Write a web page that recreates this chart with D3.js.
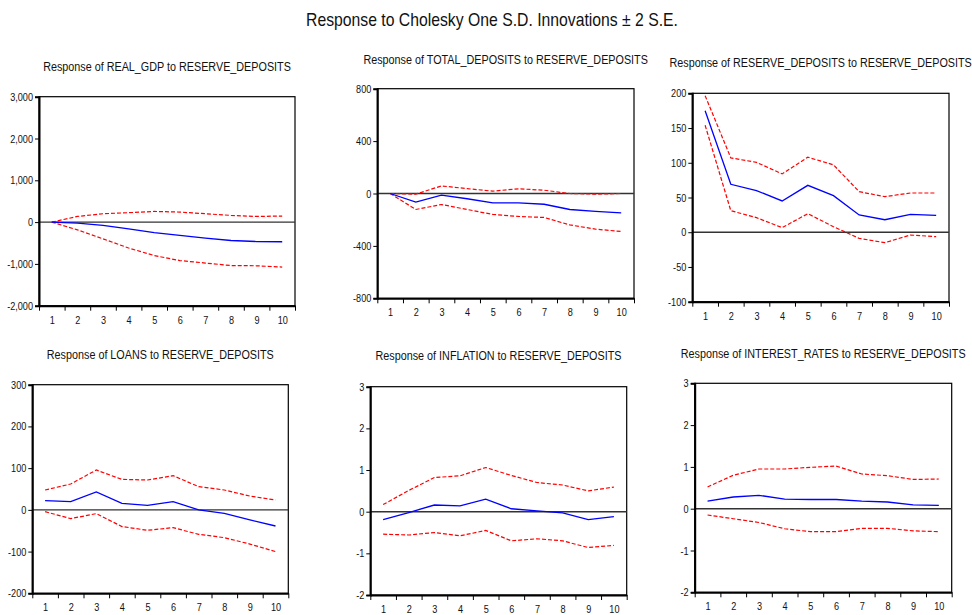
<!DOCTYPE html>
<html>
<head>
<meta charset="utf-8">
<script src="https://cdn.jsdelivr.net/npm/d3@7/dist/d3.min.js"></script>
<style>
  html, body { margin: 0; padding: 0; background: #fff; }
  svg { display: block; }
  text { font-family: "Liberation Sans", Arial, sans-serif; fill: #111; }
</style>
</head>
<body>
<svg id="chart" width="972" height="615"></svg>
<script>
// Impulse horizon
const periods = [1, 2, 3, 4, 5, 6, 7, 8, 9, 10];

// Response of REAL_GDP
const gdpResp  = [0, -25, -80, -160, -250, -320, -385, -440, -465, -470];
const gdpUpper = [0, 135, 200, 225, 255, 240, 200, 160, 135, 145];
const gdpLower = [0, -185, -400, -620, -800, -920, -980, -1040, -1045, -1075];
const gdpTicks = [-2000, -1000, 0, 1000, 2000, 3000];

// Response of TOTAL_DEPOSITS
const depResp  = [0, -66, -13, -40, -72, -72, -82, -122, -137, -148];
const depUpper = [0, -5, 58, 37, 18, 36, 25, 0, -5, 0];
const depLower = [0, -122, -84, -122, -160, -175, -183, -240, -272, -290];
const depTicks = [-800, -400, 0, 400, 800];

// Response of RESERVE_DEPOSITS
const resResp  = [175, 69, 60, 45, 67.5, 52.6, 24.8, 18, 25.8, 24.3];
const resUpper = [196.6, 107, 100.6, 84, 108, 97, 58.4, 51.2, 56.5, 56.5];
const resLower = [154, 31, 21, 6.6, 26.7, 8, -8.8, -15, -4, -6.4];
const resTicks = [-100, -50, 0, 50, 100, 150, 200];

// Response of LOANS
const loanResp  = [22, 19.6, 42.8, 15.7, 10.9, 19.6, 0, -8.3, -24, -38.7];
const loanUpper = [47.6, 62, 95.5, 73, 71.6, 82, 55.6, 47.6, 33, 23.6];
const loanLower = [-4.3, -21, -9, -40, -49, -42.7, -58.6, -66.6, -82, -100];
const loanTicks = [-200, -100, 0, 100, 200, 300];

// Response of INFLATION
const infResp  = [-0.19, -0.02, 0.16, 0.14, 0.30, 0.07, 0.02, -0.03, -0.19, -0.12];
const infUpper = [0.17, 0.51, 0.82, 0.86, 1.06, 0.87, 0.70, 0.64, 0.50, 0.59];
const infLower = [-0.54, -0.56, -0.50, -0.58, -0.45, -0.70, -0.65, -0.70, -0.86, -0.81];
const infTicks = [-2, -1, 0, 1, 2, 3];

// Response of INTEREST_RATES
const irResp  = [0.18, 0.28, 0.32, 0.23, 0.22, 0.22, 0.18, 0.16, 0.09, 0.08];
const irUpper = [0.52, 0.80, 0.95, 0.95, 0.99, 1.02, 0.83, 0.79, 0.70, 0.71];
const irLower = [-0.15, -0.24, -0.33, -0.48, -0.55, -0.55, -0.47, -0.47, -0.53, -0.55];
const irTicks = [-2, -1, 0, 1, 2, 3];

// Plain hyphen for negatives, as EViews prints them
const locale = d3.formatLocale({ decimal: ".", thousands: ",", grouping: [3], currency: ["", ""], minus: "-" });
const fmtComma = locale.format(",");
const fmtInt = locale.format("d");

const panels = [
  { title: "Response of REAL_GDP to RESERVE_DEPOSITS", resp: gdpResp, upper: gdpUpper, lower: gdpLower, ticks: gdpTicks, fmt: fmtComma,
    box: [39, 96.7, 295, 305.7], titleY: 71 },
  { title: "Response of TOTAL_DEPOSITS to RESERVE_DEPOSITS", resp: depResp, upper: depUpper, lower: depLower, ticks: depTicks, fmt: fmtInt,
    box: [377.3, 88.7, 634, 298.3], titleY: 63.5 },
  { title: "Response of RESERVE_DEPOSITS to RESERVE_DEPOSITS", resp: resResp, upper: resUpper, lower: resLower, ticks: resTicks, fmt: fmtInt,
    box: [692.3, 93.3, 949, 301.7], titleY: 66.5 },
  { title: "Response of LOANS to RESERVE_DEPOSITS", resp: loanResp, upper: loanUpper, lower: loanLower, ticks: loanTicks, fmt: fmtInt,
    box: [32.3, 384.7, 288.3, 593.3], titleY: 358.5 },
  { title: "Response of INFLATION to RESERVE_DEPOSITS", resp: infResp, upper: infUpper, lower: infLower, ticks: infTicks, fmt: fmtInt,
    box: [370.3, 386.7, 626.7, 595], titleY: 360 },
  { title: "Response of INTEREST_RATES to RESERVE_DEPOSITS", resp: irResp, upper: irUpper, lower: irLower, ticks: irTicks, fmt: fmtInt,
    box: [694.7, 383.3, 951.7, 592.3], titleY: 357.5 }
];

// Horizontal compression gives a narrow (Arial Narrow-like) face
const NARROW = 0.83;

const svg = d3.select("#chart");

function narrowText(parent, x, y, str, size, anchor) {
  return parent.append("text")
    .attr("transform", `translate(${x},${y}) scale(${NARROW},1)`)
    .attr("text-anchor", anchor || "middle")
    .style("font-size", size + "px")
    .text(str);
}

narrowText(svg, 492, 26, "Response to Cholesky One S.D. Innovations \u00B1 2 S.E.", 19);

const boundaries = d3.range(0.5, 11, 1);

panels.forEach(p => {
  const [x0, y0, x1, y1] = p.box;
  const x = d3.scaleLinear().domain([0.5, 10.5]).range([x0, x1]);
  const y = d3.scaleLinear().domain(d3.extent(p.ticks)).range([y1, y0]);
  const g = svg.append("g");

  narrowText(g, (x0 + x1) / 2, p.titleY, p.title, 13);

  // frame
  g.append("rect")
    .attr("x", x0).attr("y", y0)
    .attr("width", x1 - x0).attr("height", y1 - y0)
    .attr("fill", "none").attr("stroke", "#000").attr("stroke-width", 1.2);

  // zero reference line
  g.append("line")
    .attr("x1", x0).attr("x2", x1)
    .attr("y1", y(0)).attr("y2", y(0))
    .attr("stroke", "#333").attr("stroke-width", 1.4);

  // y axis
  const ya = g.append("g")
    .attr("transform", `translate(${x0},0)`)
    .call(d3.axisLeft(y).tickValues(p.ticks).tickFormat(p.fmt).tickSize(4).tickPadding(2));
  ya.select(".domain").attr("stroke", "#000").attr("stroke-width", 2);
  ya.selectAll("line").attr("stroke", "#000");
  ya.selectAll("text")
    .style("font-size", "11px").style("font-family", null)
    .attr("x", 0)
    .attr("transform", `translate(-6,0) scale(${NARROW},1)`);

  // x axis: tick marks on period boundaries, labels on period centres
  const xb = g.append("g")
    .attr("transform", `translate(0,${y1})`)
    .call(d3.axisBottom(x).tickValues(boundaries).tickFormat("").tickSize(5).tickSizeOuter(0));
  xb.select(".domain").attr("stroke", "#000").attr("stroke-width", 2);
  xb.selectAll("line").attr("stroke", "#000");

  const xl = g.append("g")
    .attr("transform", `translate(0,${y1})`)
    .call(d3.axisBottom(x).tickValues(periods).tickFormat(fmtInt).tickSize(0).tickPadding(10));
  xl.select(".domain").remove();
  xl.selectAll("text")
    .style("font-size", "11px").style("font-family", null)
    .attr("transform", `scale(${NARROW},1)`);

  const line = d3.line().x((d, i) => x(periods[i])).y(d => y(d));

  g.append("path").datum(p.upper)
    .attr("d", line).attr("fill", "none")
    .attr("stroke", "#ff0000").attr("stroke-width", 1.2).attr("stroke-dasharray", "4,2");
  g.append("path").datum(p.lower)
    .attr("d", line).attr("fill", "none")
    .attr("stroke", "#ff0000").attr("stroke-width", 1.2).attr("stroke-dasharray", "4,2");
  g.append("path").datum(p.resp)
    .attr("d", line).attr("fill", "none")
    .attr("stroke", "#0000ff").attr("stroke-width", 1.3);
});
</script>
</body>
</html>
